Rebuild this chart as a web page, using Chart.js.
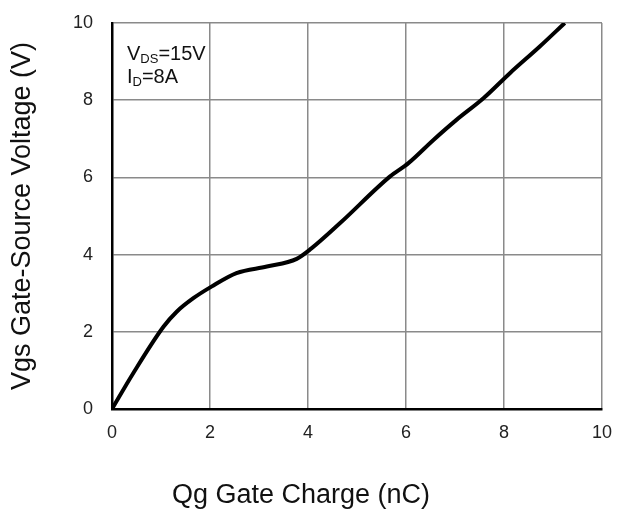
<!DOCTYPE html>
<html>
<head>
<meta charset="utf-8">
<script src="https://cdn.jsdelivr.net/npm/chart.js@4"></script>
<style>
    html, body { margin: 0; padding: 0; background: #fff; }
    #wrap { width: 619px; height: 509px; }
</style>
</head>
<body>
<div id="wrap"><canvas id="qgChart"></canvas></div>
<script>
// Gate charge curve
const qg  = [0, 0.43, 1.05, 1.32, 1.66, 2.03, 2.54, 3.16, 3.77, 4.07, 4.65, 5.67, 6.05, 6.56, 7.03, 7.58, 8.12, 8.73, 9.24];
const vgs = [0, 0.92, 2.13, 2.52, 2.87, 3.17, 3.52, 3.69, 3.89, 4.16, 4.81, 6.02, 6.37, 6.97, 7.49, 8.05, 8.70, 9.39, 10.0];
const tickValues = [0, 2, 4, 6, 8, 10];

const points = qg.map((q, i) => ({ x: q, y: vgs[i] }));

// test conditions label inside the plot (V_DS / I_D with subscripts)
const conditionsLabel = {
    id: 'conditionsLabel',
    afterDatasetsDraw(chart) {
        const ctx = chart.ctx;
        const a = chart.chartArea;
        const big = '20px "Liberation Sans", Arial, sans-serif';
        const small = '13px "Liberation Sans", Arial, sans-serif';
        ctx.save();
        ctx.fillStyle = '#111';
        ctx.textBaseline = 'alphabetic';
        ctx.textAlign = 'left';
        let x = a.left + 15;
        let y = a.top + 37;
        ctx.font = big; ctx.fillText('V', x, y); x += ctx.measureText('V').width;
        ctx.font = small; ctx.fillText('DS', x, y + 3); x += ctx.measureText('DS').width;
        ctx.font = big; ctx.fillText('=15V', x, y);
        x = a.left + 15;
        y = a.top + 60;
        ctx.font = big; ctx.fillText('I', x, y); x += ctx.measureText('I').width;
        ctx.font = small; ctx.fillText('D', x, y + 3); x += ctx.measureText('D').width;
        ctx.font = big; ctx.fillText('=8A', x, y);
        ctx.restore();
    }
};

document.addEventListener('DOMContentLoaded', function() {
    const ctx = document.getElementById('qgChart').getContext('2d');
    new Chart(ctx, {
        type: 'line',
        data: {
            datasets: [{
                label: 'Vgs',
                data: points,
                borderColor: '#000',
                borderWidth: 4,
                pointRadius: 0,
                cubicInterpolationMode: 'monotone',
                fill: false
            }]
        },
        options: {
            responsive: true,
            maintainAspectRatio: false,
            animation: false,
            layout: { padding: { left: 0, top: 23, right: 17, bottom: 0 } },
            scales: {
                x: {
                    type: 'linear',
                    min: 0,
                    max: 10,
                    afterBuildTicks: (s) => { s.ticks = tickValues.map(v => ({ value: v })); },
                    afterFit: (s) => { s.height = 73; },
                    ticks: {
                        padding: 7,
                        color: '#222',
                        font: { family: '"Liberation Sans", Arial, sans-serif', size: 18 }
                    },
                    // invisible tick marks give the label offset without widening the side padding
                    grid: { color: '#8a8a8a', lineWidth: 1.5, drawTicks: true, tickLength: 6, tickColor: 'rgba(0,0,0,0)' },
                    border: { color: '#000', width: 2.5 }
                },
                y: {
                    type: 'linear',
                    min: 0,
                    max: 10,
                    afterBuildTicks: (s) => { s.ticks = tickValues.map(v => ({ value: v })); },
                    afterFit: (s) => { s.width = 112; },
                    ticks: {
                        padding: 0,
                        color: '#222',
                        font: { family: '"Liberation Sans", Arial, sans-serif', size: 18 }
                    },
                    grid: { color: '#8a8a8a', lineWidth: 1.5, drawTicks: true, tickLength: 19, tickColor: 'rgba(0,0,0,0)' },
                    border: { color: '#000', width: 2.5 },
                    title: {
                        display: true,
                        text: 'Vgs Gate-Source Voltage (V)',
                        color: '#111',
                        padding: { top: 6, bottom: 0 },
                        font: { family: '"Liberation Sans", Arial, sans-serif', size: 27 }
                    }
                }
            },
            plugins: {
                legend: { display: false },
                tooltip: { enabled: false },
                title: {
                    display: true,
                    position: 'bottom',
                    text: 'Qg Gate Charge (nC)',
                    color: '#111',
                    padding: { top: 0, bottom: 0 },
                    font: { family: '"Liberation Sans", Arial, sans-serif', size: 27, weight: 'normal', lineHeight: 1 }
                }
            }
        },
        plugins: [conditionsLabel]
    });
});
</script>
</body>
</html>
